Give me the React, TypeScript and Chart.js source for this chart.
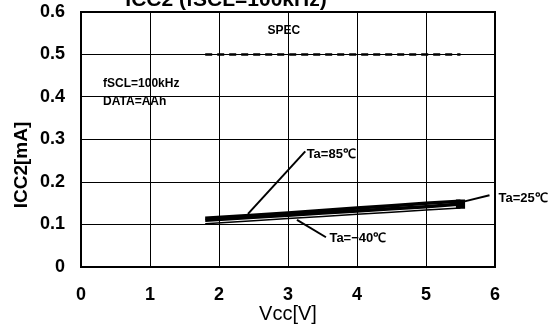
import React, { useEffect, useRef } from "react";
import { Chart, registerables } from "chart.js";

Chart.register(...registerables);

const vcc = [1.8, 2.5, 3.0, 3.5, 4.0, 4.5, 5.0, 5.5];
const ta85 = [0.115, 0.122, 0.127, 0.133, 0.139, 0.144, 0.15, 0.155];
const ta25 = [0.11, 0.117, 0.122, 0.127, 0.132, 0.137, 0.142, 0.148];
const taM40 = [0.102, 0.109, 0.114, 0.119, 0.124, 0.129, 0.134, 0.139];
const specX = [1.8, 5.5];
const specY = [0.5, 0.5];
const xTicks = [0, 1, 2, 3, 4, 5, 6];
const yTicks = [0, 0.1, 0.2, 0.3, 0.4, 0.5, 0.6];

const titleText = "ICC2 (fSCL=100kHz)";
const xTitle = "Vcc[V]";
const yTitle = "ICC2[mA]";
const noteLines = ["fSCL=100kHz", "DATA=AAh"];

// callouts: label text, label anchor (data units), leader start & end (data units)
const callouts = [
  { text: "Ta=85\u2103", lx: 3.27, ly: 0.266, x1: 3.25, y1: 0.272, x2: 2.42, y2: 0.125 },
  { text: "Ta=25\u2103", lx: 6.05, ly: 0.162, x1: 5.92, y1: 0.169, x2: 5.5, y2: 0.152 },
  { text: "Ta=\u221240\u2103", lx: 3.6, ly: 0.067, x1: 3.55, y1: 0.07, x2: 3.13, y2: 0.111 },
];

const FONT = "'Liberation Sans', Arial, sans-serif";

const overlay = {
  id: "overlay",
  afterDraw(chart: any) {
    const { ctx, chartArea, scales } = chart;
    const xs = scales.x;
    const ys = scales.y;
    ctx.save();
    ctx.fillStyle = "#000";
    ctx.strokeStyle = "#000";

    // chart title (partly cut off at top)
    ctx.font = `bold 21px ${FONT}`;
    ctx.textAlign = "center";
    ctx.textBaseline = "alphabetic";
    ctx.fillText(titleText, chartArea.left + 145, 6);

    // x axis title
    ctx.font = `20px ${FONT}`;
    ctx.textBaseline = "middle";
    ctx.fillText(xTitle, xs.getPixelForValue(3), 314);

    // y axis title
    ctx.save();
    ctx.translate(22, ys.getPixelForValue(0.24));
    ctx.rotate(-Math.PI / 2);
    ctx.font = `bold 19px ${FONT}`;
    ctx.fillText(yTitle, 0, 0);
    ctx.restore();

    // SPEC label
    ctx.font = `bold 12px ${FONT}`;
    ctx.textAlign = "center";
    ctx.fillText("SPEC", xs.getPixelForValue(2.94), ys.getPixelForValue(0.557));

    // condition notes
    ctx.textAlign = "left";
    ctx.font = `bold 12px ${FONT}`;
    ctx.fillText(noteLines[0], xs.getPixelForValue(0.32), ys.getPixelForValue(0.432));
    ctx.fillText(noteLines[1], xs.getPixelForValue(0.32), ys.getPixelForValue(0.388));

    // callouts
    ctx.font = `bold 13px ${FONT}`;
    ctx.lineWidth = 2;
    for (const c of callouts) {
      ctx.beginPath();
      ctx.moveTo(xs.getPixelForValue(c.x1), ys.getPixelForValue(c.y1));
      ctx.lineTo(xs.getPixelForValue(c.x2), ys.getPixelForValue(c.y2));
      ctx.stroke();
      ctx.fillText(c.text, xs.getPixelForValue(c.lx), ys.getPixelForValue(c.ly));
    }
    ctx.restore();
  },
};

export default function App() {
  const ref = useRef<HTMLCanvasElement | null>(null);
  useEffect(() => {
    if (!ref.current) return;
    const pts = (ys: number[]) => vcc.map((x, i) => ({ x, y: ys[i] }));
    const chart = new Chart(ref.current, {
      type: "line",
      data: {
        datasets: [
          {
            label: "SPEC",
            data: specX.map((x, i) => ({ x, y: specY[i] })),
            borderColor: "#000",
            borderWidth: 2.5,
            borderDash: [7, 5],
            pointRadius: 0,
          },
          {
            label: "Ta=85",
            data: pts(ta85),
            borderColor: "#000",
            borderWidth: 3.5,
            pointRadius: 0,
          },
          {
            label: "Ta=25",
            data: pts(ta25),
            borderColor: "#000",
            borderWidth: 3.5,
            pointStyle: "rect",
            pointBackgroundColor: "#000",
            pointBorderColor: "#000",
            pointRadius: (c: any) => (c.dataIndex === vcc.length - 1 ? 4 : 0),
          },
          {
            label: "Ta=-40",
            data: pts(taM40),
            borderColor: "#000",
            borderWidth: 1.5,
            pointRadius: 0,
          },
        ],
      },
      options: {
        animation: false,
        responsive: false,
        layout: { padding: { top: 12, right: 61, left: 0, bottom: 0 } },
        plugins: { legend: { display: false }, tooltip: { enabled: false } },
        scales: {
          x: {
            type: "linear",
            min: 0,
            max: 6,
            afterBuildTicks: (s: any) => {
              s.ticks = xTicks.map((v) => ({ value: v }));
            },
            afterFit: (s: any) => {
              s.height = 62;
              s.paddingLeft = 0;
              s.paddingRight = 0;
            },
            ticks: {
              color: "#000",
              font: { family: FONT, size: 18, weight: "bold" },
              padding: 17,
              maxRotation: 0,
            },
            grid: { color: "#000", lineWidth: 1, drawTicks: false },
            border: { color: "#000", width: 2 },
          },
          y: {
            type: "linear",
            min: 0,
            max: 0.6,
            afterBuildTicks: (s: any) => {
              s.ticks = yTicks.map((v) => ({ value: v }));
            },
            afterFit: (s: any) => {
              s.width = 81;
              s.paddingTop = 0;
              s.paddingBottom = 0;
            },
            ticks: {
              color: "#000",
              font: { family: FONT, size: 18, weight: "bold" },
              padding: 16,
              callback: (v: any) => (v === 0 ? "0" : Number(v).toFixed(1)),
            },
            grid: { color: "#000", lineWidth: 1, drawTicks: false },
            border: { color: "#000", width: 2 },
          },
        },
      },
      plugins: [
        overlay,
        {
          id: "frame",
          afterDatasetsDraw(chart: any) {
            const { ctx, chartArea: a } = chart;
            ctx.save();
            ctx.strokeStyle = "#000";
            ctx.lineWidth = 2;
            ctx.strokeRect(a.left, a.top, a.right - a.left, a.bottom - a.top);
            ctx.restore();
          },
        },
      ],
    } as any);
    return () => chart.destroy();
  }, []);
  return (
    <div style={{ position: "fixed", left: 0, top: 0, width: 556, height: 329, background: "#fff" }}>
      <canvas ref={ref} width={556} height={329} style={{ width: 556, height: 329 }} />
    </div>
  );
}
